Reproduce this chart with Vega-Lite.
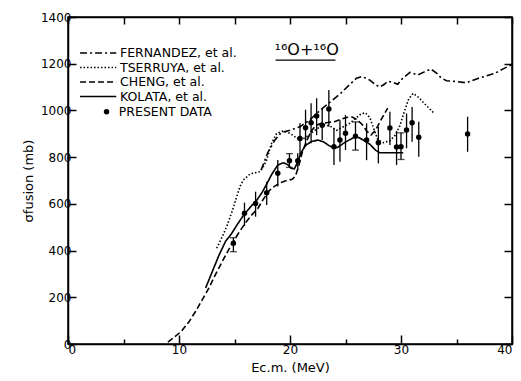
{
  "$schema": "https://vega.github.io/schema/vega-lite/v6.json",
  "width": 444,
  "height": 327,
  "autosize": {"type": "none"},
  "padding": {"left": 68, "top": 17, "right": 9, "bottom": 37},
  "background": "white",
  "config": {
    "view": {"stroke": "black", "strokeWidth": 1.5},
    "font": "DejaVu Sans",
    "axis": {
      "grid": false,
      "domainColor": "black",
      "domainWidth": 1.5,
      "tickColor": "black",
      "tickWidth": 1.5,
      "labelColor": "black",
      "titleColor": "black",
      "labelFont": "DejaVu Sans",
      "titleFont": "DejaVu Sans",
      "labelFontSize": 12,
      "titleFontSize": 13,
      "titleFontWeight": "normal"
    },
    "legend": {
      "labelFont": "DejaVu Sans",
      "labelFontSize": 12.5,
      "labelColor": "black"
    }
  },
  "datasets": {
    "curves": [
      {"series": "FERNANDEZ, et al.", "E": 17.4, "s": 745},
      {"series": "FERNANDEZ, et al.", "E": 18.0, "s": 820},
      {"series": "FERNANDEZ, et al.", "E": 18.6, "s": 870},
      {"series": "FERNANDEZ, et al.", "E": 19.2, "s": 905},
      {"series": "FERNANDEZ, et al.", "E": 20.0, "s": 915},
      {"series": "FERNANDEZ, et al.", "E": 20.9, "s": 930},
      {"series": "FERNANDEZ, et al.", "E": 21.8, "s": 960},
      {"series": "FERNANDEZ, et al.", "E": 22.7, "s": 1000},
      {"series": "FERNANDEZ, et al.", "E": 23.6, "s": 1035},
      {"series": "FERNANDEZ, et al.", "E": 24.5, "s": 1070},
      {"series": "FERNANDEZ, et al.", "E": 25.4, "s": 1112},
      {"series": "FERNANDEZ, et al.", "E": 26.0, "s": 1138},
      {"series": "FERNANDEZ, et al.", "E": 26.5, "s": 1145},
      {"series": "FERNANDEZ, et al.", "E": 27.2, "s": 1130},
      {"series": "FERNANDEZ, et al.", "E": 27.7, "s": 1110},
      {"series": "FERNANDEZ, et al.", "E": 28.1, "s": 1100},
      {"series": "FERNANDEZ, et al.", "E": 28.5, "s": 1112},
      {"series": "FERNANDEZ, et al.", "E": 28.8, "s": 1125},
      {"series": "FERNANDEZ, et al.", "E": 29.3, "s": 1120},
      {"series": "FERNANDEZ, et al.", "E": 29.7, "s": 1112},
      {"series": "FERNANDEZ, et al.", "E": 30.1, "s": 1135},
      {"series": "FERNANDEZ, et al.", "E": 30.8, "s": 1163},
      {"series": "FERNANDEZ, et al.", "E": 31.5, "s": 1152},
      {"series": "FERNANDEZ, et al.", "E": 32.1, "s": 1165},
      {"series": "FERNANDEZ, et al.", "E": 32.7, "s": 1177},
      {"series": "FERNANDEZ, et al.", "E": 33.2, "s": 1160},
      {"series": "FERNANDEZ, et al.", "E": 33.6, "s": 1140},
      {"series": "FERNANDEZ, et al.", "E": 34.1, "s": 1127},
      {"series": "FERNANDEZ, et al.", "E": 35.0, "s": 1124},
      {"series": "FERNANDEZ, et al.", "E": 35.9, "s": 1118},
      {"series": "FERNANDEZ, et al.", "E": 36.8, "s": 1135},
      {"series": "FERNANDEZ, et al.", "E": 37.7, "s": 1148},
      {"series": "FERNANDEZ, et al.", "E": 38.5, "s": 1160},
      {"series": "FERNANDEZ, et al.", "E": 39.2, "s": 1178},
      {"series": "FERNANDEZ, et al.", "E": 40.0, "s": 1196},
      {"series": "TSERRUYA, et al.", "E": 13.4, "s": 410},
      {"series": "TSERRUYA, et al.", "E": 13.9, "s": 460},
      {"series": "TSERRUYA, et al.", "E": 14.3, "s": 503},
      {"series": "TSERRUYA, et al.", "E": 14.8, "s": 570},
      {"series": "TSERRUYA, et al.", "E": 15.2, "s": 631},
      {"series": "TSERRUYA, et al.", "E": 15.5, "s": 675},
      {"series": "TSERRUYA, et al.", "E": 15.8, "s": 702},
      {"series": "TSERRUYA, et al.", "E": 16.4, "s": 728},
      {"series": "TSERRUYA, et al.", "E": 17.3, "s": 738},
      {"series": "TSERRUYA, et al.", "E": 17.6, "s": 760},
      {"series": "TSERRUYA, et al.", "E": 17.9, "s": 788},
      {"series": "TSERRUYA, et al.", "E": 18.3, "s": 855},
      {"series": "TSERRUYA, et al.", "E": 18.8, "s": 902},
      {"series": "TSERRUYA, et al.", "E": 19.4, "s": 912},
      {"series": "TSERRUYA, et al.", "E": 20.0, "s": 902},
      {"series": "TSERRUYA, et al.", "E": 20.6, "s": 882},
      {"series": "TSERRUYA, et al.", "E": 21.0, "s": 873},
      {"series": "TSERRUYA, et al.", "E": 21.5, "s": 888},
      {"series": "TSERRUYA, et al.", "E": 22.1, "s": 910},
      {"series": "TSERRUYA, et al.", "E": 22.7, "s": 930},
      {"series": "TSERRUYA, et al.", "E": 23.1, "s": 938},
      {"series": "TSERRUYA, et al.", "E": 23.6, "s": 933},
      {"series": "TSERRUYA, et al.", "E": 24.2, "s": 915},
      {"series": "TSERRUYA, et al.", "E": 24.8, "s": 930},
      {"series": "TSERRUYA, et al.", "E": 25.4, "s": 945},
      {"series": "TSERRUYA, et al.", "E": 25.9, "s": 965},
      {"series": "TSERRUYA, et al.", "E": 26.4, "s": 985},
      {"series": "TSERRUYA, et al.", "E": 26.8, "s": 990},
      {"series": "TSERRUYA, et al.", "E": 27.2, "s": 968},
      {"series": "TSERRUYA, et al.", "E": 27.6, "s": 915},
      {"series": "TSERRUYA, et al.", "E": 27.9, "s": 875},
      {"series": "TSERRUYA, et al.", "E": 28.4, "s": 862},
      {"series": "TSERRUYA, et al.", "E": 29.0, "s": 870},
      {"series": "TSERRUYA, et al.", "E": 29.5, "s": 895},
      {"series": "TSERRUYA, et al.", "E": 29.9, "s": 935},
      {"series": "TSERRUYA, et al.", "E": 30.3, "s": 995},
      {"series": "TSERRUYA, et al.", "E": 30.7, "s": 1050},
      {"series": "TSERRUYA, et al.", "E": 31.1, "s": 1073},
      {"series": "TSERRUYA, et al.", "E": 31.6, "s": 1055},
      {"series": "TSERRUYA, et al.", "E": 32.3, "s": 1020},
      {"series": "TSERRUYA, et al.", "E": 33.0, "s": 987},
      {"series": "CHENG, et al.", "E": 9.0, "s": 8},
      {"series": "CHENG, et al.", "E": 9.6, "s": 30},
      {"series": "CHENG, et al.", "E": 10.2, "s": 54},
      {"series": "CHENG, et al.", "E": 10.9, "s": 95},
      {"series": "CHENG, et al.", "E": 11.5, "s": 140},
      {"series": "CHENG, et al.", "E": 12.1, "s": 190},
      {"series": "CHENG, et al.", "E": 12.7, "s": 240},
      {"series": "CHENG, et al.", "E": 13.2, "s": 290},
      {"series": "CHENG, et al.", "E": 13.7, "s": 335},
      {"series": "CHENG, et al.", "E": 14.2, "s": 380},
      {"series": "CHENG, et al.", "E": 14.6, "s": 415},
      {"series": "CHENG, et al.", "E": 15.3, "s": 470},
      {"series": "CHENG, et al.", "E": 16.0, "s": 520},
      {"series": "CHENG, et al.", "E": 16.6, "s": 555},
      {"series": "CHENG, et al.", "E": 17.1, "s": 580},
      {"series": "CHENG, et al.", "E": 17.6, "s": 620},
      {"series": "CHENG, et al.", "E": 18.1, "s": 655},
      {"series": "CHENG, et al.", "E": 18.6, "s": 675},
      {"series": "CHENG, et al.", "E": 19.1, "s": 690},
      {"series": "CHENG, et al.", "E": 19.7, "s": 700},
      {"series": "CHENG, et al.", "E": 20.2, "s": 705},
      {"series": "CHENG, et al.", "E": 20.5, "s": 720},
      {"series": "CHENG, et al.", "E": 20.8, "s": 765},
      {"series": "CHENG, et al.", "E": 21.1, "s": 820},
      {"series": "CHENG, et al.", "E": 21.5, "s": 870},
      {"series": "CHENG, et al.", "E": 21.9, "s": 910},
      {"series": "CHENG, et al.", "E": 22.3, "s": 935},
      {"series": "CHENG, et al.", "E": 22.8, "s": 945},
      {"series": "CHENG, et al.", "E": 23.4, "s": 948},
      {"series": "CHENG, et al.", "E": 24.0, "s": 952},
      {"series": "CHENG, et al.", "E": 24.6, "s": 962},
      {"series": "CHENG, et al.", "E": 25.1, "s": 970},
      {"series": "CHENG, et al.", "E": 25.6, "s": 972},
      {"series": "CHENG, et al.", "E": 26.0, "s": 962},
      {"series": "CHENG, et al.", "E": 26.5, "s": 940},
      {"series": "CHENG, et al.", "E": 26.9, "s": 912},
      {"series": "CHENG, et al.", "E": 27.3, "s": 895},
      {"series": "CHENG, et al.", "E": 27.7, "s": 915},
      {"series": "CHENG, et al.", "E": 28.2, "s": 960},
      {"series": "CHENG, et al.", "E": 28.8, "s": 1010},
      {"series": "KOLATA, et al.", "E": 12.4, "s": 240},
      {"series": "KOLATA, et al.", "E": 13.0, "s": 310},
      {"series": "KOLATA, et al.", "E": 13.6, "s": 380},
      {"series": "KOLATA, et al.", "E": 14.2, "s": 440},
      {"series": "KOLATA, et al.", "E": 14.7, "s": 470},
      {"series": "KOLATA, et al.", "E": 15.3, "s": 515},
      {"series": "KOLATA, et al.", "E": 15.9, "s": 557},
      {"series": "KOLATA, et al.", "E": 16.5, "s": 590},
      {"series": "KOLATA, et al.", "E": 17.0, "s": 615},
      {"series": "KOLATA, et al.", "E": 17.5, "s": 650},
      {"series": "KOLATA, et al.", "E": 17.9, "s": 685},
      {"series": "KOLATA, et al.", "E": 18.4, "s": 730},
      {"series": "KOLATA, et al.", "E": 18.9, "s": 766},
      {"series": "KOLATA, et al.", "E": 19.4, "s": 776},
      {"series": "KOLATA, et al.", "E": 19.8, "s": 768},
      {"series": "KOLATA, et al.", "E": 20.1, "s": 752},
      {"series": "KOLATA, et al.", "E": 20.4, "s": 750},
      {"series": "KOLATA, et al.", "E": 20.7, "s": 780},
      {"series": "KOLATA, et al.", "E": 21.0, "s": 820},
      {"series": "KOLATA, et al.", "E": 21.4, "s": 850},
      {"series": "KOLATA, et al.", "E": 21.9, "s": 866},
      {"series": "KOLATA, et al.", "E": 22.5, "s": 873},
      {"series": "KOLATA, et al.", "E": 23.0, "s": 866},
      {"series": "KOLATA, et al.", "E": 23.5, "s": 850},
      {"series": "KOLATA, et al.", "E": 23.9, "s": 840},
      {"series": "KOLATA, et al.", "E": 24.3, "s": 842},
      {"series": "KOLATA, et al.", "E": 24.9, "s": 862},
      {"series": "KOLATA, et al.", "E": 25.4, "s": 875},
      {"series": "KOLATA, et al.", "E": 25.8, "s": 885},
      {"series": "KOLATA, et al.", "E": 26.2, "s": 884},
      {"series": "KOLATA, et al.", "E": 26.7, "s": 870},
      {"series": "KOLATA, et al.", "E": 27.2, "s": 855},
      {"series": "KOLATA, et al.", "E": 27.7, "s": 830},
      {"series": "KOLATA, et al.", "E": 28.1, "s": 819},
      {"series": "KOLATA, et al.", "E": 29.0, "s": 819},
      {"series": "KOLATA, et al.", "E": 30.2, "s": 819}
    ],
    "pts": [
      {"E": 14.9, "s": 431, "lo": 395, "hi": 455, "cap": true},
      {"E": 15.9, "s": 560, "lo": 505, "hi": 605, "cap": false},
      {"E": 16.9, "s": 602, "lo": 545, "hi": 652, "cap": false},
      {"E": 17.9, "s": 648, "lo": 595, "hi": 695, "cap": false},
      {"E": 18.9, "s": 731, "lo": 674, "hi": 788, "cap": false},
      {"E": 19.95, "s": 785, "lo": 756, "hi": 815, "cap": true},
      {"E": 20.7, "s": 785, "lo": 745, "hi": 817, "cap": false},
      {"E": 20.9, "s": 880, "lo": 810, "hi": 945, "cap": false},
      {"E": 21.4, "s": 926, "lo": 845, "hi": 1003, "cap": false},
      {"E": 21.9, "s": 947, "lo": 860, "hi": 1031, "cap": false},
      {"E": 22.4, "s": 976, "lo": 894, "hi": 1052, "cap": false},
      {"E": 22.9, "s": 937, "lo": 873, "hi": 1010, "cap": false},
      {"E": 23.5, "s": 1006, "lo": 930, "hi": 1087, "cap": false},
      {"E": 23.96, "s": 845, "lo": 766, "hi": 924, "cap": false},
      {"E": 24.5, "s": 873, "lo": 780, "hi": 958, "cap": false},
      {"E": 25.0, "s": 902, "lo": 830, "hi": 980, "cap": false},
      {"E": 25.9, "s": 890, "lo": 830, "hi": 951, "cap": true},
      {"E": 26.9, "s": 873, "lo": 787, "hi": 945, "cap": false},
      {"E": 27.96, "s": 862, "lo": 773, "hi": 930, "cap": false},
      {"E": 29.0, "s": 925, "lo": 852, "hi": 994, "cap": false},
      {"E": 29.6, "s": 843, "lo": 766, "hi": 912, "cap": false},
      {"E": 30.0, "s": 845, "lo": 790, "hi": 904, "cap": true},
      {"E": 30.5, "s": 916, "lo": 838, "hi": 987, "cap": false},
      {"E": 31.0, "s": 947, "lo": 866, "hi": 1015, "cap": false},
      {"E": 31.6, "s": 885, "lo": 802, "hi": 951, "cap": false},
      {"E": 36.0, "s": 899, "lo": 823, "hi": 973, "cap": false}
    ],
    "annot": [{"E": 21.5, "s": 1236, "t": "¹⁶O+¹⁶O"}],
    "uline": [{"E": 18.7, "E2": 24.1, "s": 1215}]
  },
  "layer": [
    {
      "data": {"name": "curves"},
      "mark": {"type": "line", "color": "black", "strokeWidth": 1.6},
      "encoding": {
        "x": {
          "field": "E", "type": "quantitative",
          "scale": {"domain": [0, 40], "nice": false},
          "axis": {
            "orient": "bottom",
            "values": [0, 5, 10, 15, 20, 25, 30, 35, 40],
            "labelExpr": "datum.value % 10 === 0 ? datum.label : ''",
            "tickSize": {"condition": {"test": "datum.value % 10 === 0", "value": -9}, "value": -5},
            "labelPadding": 9,
            "title": "Ec.m. (MeV)",
            "titlePadding": 6
          }
        },
        "y": {
          "field": "s", "type": "quantitative",
          "scale": {"domain": [0, 1400], "nice": false},
          "axis": {
            "orient": "left",
            "values": [0, 200, 400, 600, 800, 1000, 1200, 1400],
            "format": "d",
            "tickSize": -8,
            "labelPadding": 5,
            "title": "σfusion  (mb)",
            "titlePadding": 5
          }
        },
        "strokeDash": {
          "field": "series", "type": "nominal",
          "scale": {
            "domain": ["FERNANDEZ, et al.", "TSERRUYA, et al.", "CHENG, et al.", "KOLATA, et al."],
            "range": [[7, 3, 2, 3], [1.5, 2], [6, 3], [1, 0]]
          },
          "legend": {
            "orient": "none", "legendX": 36, "legendY": 29.5, "title": null,
            "symbolType": "M-5.3,0H1", "symbolSize": 132,
            "symbolStrokeColor": "black", "symbolStrokeWidth": 1.5, "symbolFillColor": "transparent",
            "labelOffset": 3, "rowPadding": 1.5, "padding": 0
          }
        }
      }
    },
    {
      "data": {"name": "pts"},
      "mark": {"type": "rule", "color": "black", "strokeWidth": 1.3},
      "encoding": {
        "x": {"field": "E", "type": "quantitative", "axis": null},
        "y": {"field": "lo", "type": "quantitative", "axis": null},
        "y2": {"field": "hi"}
      }
    },
    {
      "data": {"name": "pts"},
      "transform": [{"filter": "datum.cap"}, {"fold": ["lo", "hi"], "as": ["k", "v"]}],
      "mark": {"type": "tick", "orient": "horizontal", "color": "black", "size": 7, "thickness": 1.3},
      "encoding": {
        "x": {"field": "E", "type": "quantitative", "axis": null},
        "y": {"field": "v", "type": "quantitative", "axis": null}
      }
    },
    {
      "data": {"name": "pts"},
      "mark": {"type": "point", "filled": true, "color": "black", "size": 30, "opacity": 1},
      "encoding": {
        "x": {"field": "E", "type": "quantitative", "axis": null},
        "y": {"field": "s", "type": "quantitative", "axis": null},
        "shape": {
          "datum": "PRESENT DATA",
          "scale": {"domain": ["PRESENT DATA"], "range": ["circle"]},
          "legend": {
            "orient": "none", "legendX": 32.3, "legendY": 88.5, "title": null,
            "symbolSize": 30, "symbolFillColor": "black", "symbolStrokeColor": "black",
            "labelOffset": 6, "padding": 0
          }
        }
      }
    },
    {
      "data": {"name": "annot"},
      "mark": {"type": "text", "color": "black", "fontSize": 16, "font": "DejaVu Sans", "baseline": "alphabetic", "align": "center"},
      "encoding": {
        "x": {"field": "E", "type": "quantitative", "axis": null},
        "y": {"field": "s", "type": "quantitative", "axis": null},
        "text": {"field": "t"}
      }
    },
    {
      "data": {"name": "uline"},
      "mark": {"type": "rule", "color": "black", "strokeWidth": 1.3},
      "encoding": {
        "x": {"field": "E", "type": "quantitative", "axis": null},
        "x2": {"field": "E2"},
        "y": {"field": "s", "type": "quantitative", "axis": null}
      }
    },
    {
      "data": {"name": "pts"},
      "mark": {"type": "point", "opacity": 0},
      "encoding": {
        "x": {
          "field": "E", "type": "quantitative",
          "axis": {"orient": "top", "values": [0, 5, 10, 15, 20, 25, 30, 35, 40], "labels": false, "tickSize": -7, "title": null}
        },
        "y": {
          "field": "s", "type": "quantitative",
          "axis": {"orient": "right", "values": [0, 200, 400, 600, 800, 1000, 1200, 1400], "labels": false, "tickSize": -8, "title": null}
        }
      }
    }
  ],
  "resolve": {"axis": {"x": "independent", "y": "independent"}}
}
